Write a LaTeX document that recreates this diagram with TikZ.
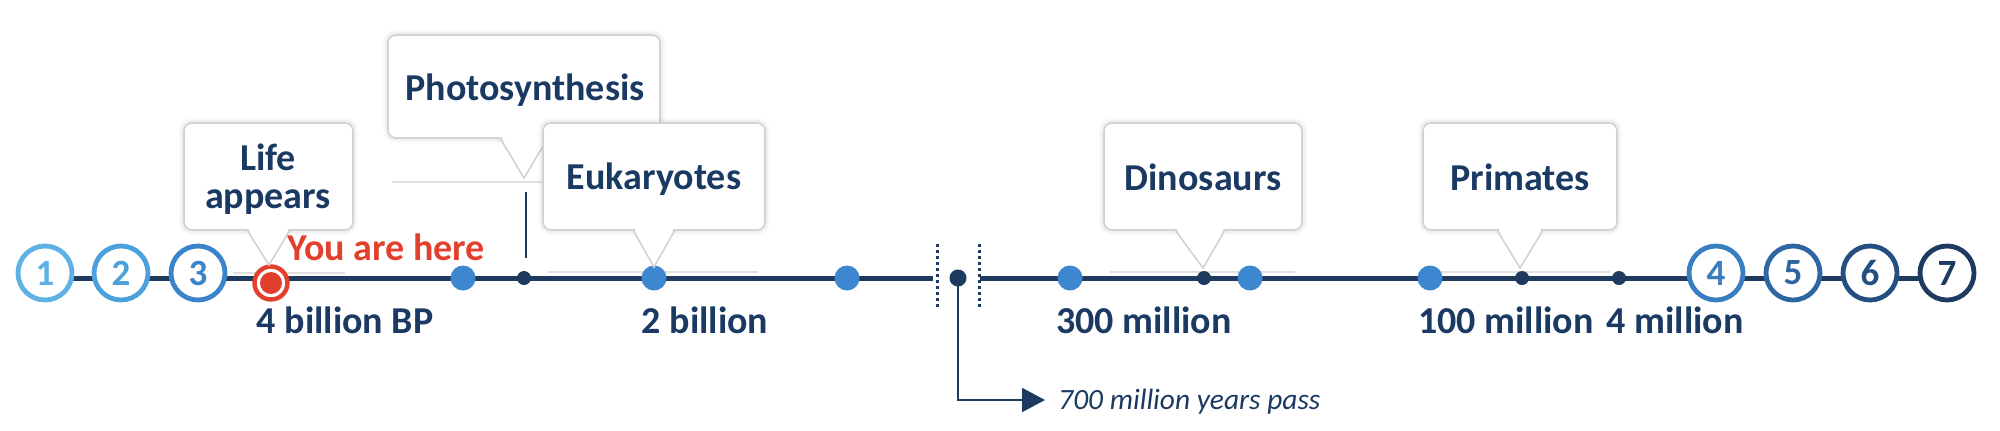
\documentclass[tikz,border=0pt]{standalone}
\usepackage{fontspec}
\setmainfont{Carlito}
\usetikzlibrary{arrows.meta}
\definecolor{navy}{HTML}{1E3A5F}
\definecolor{txt}{HTML}{1B3A63}
\definecolor{dotblue}{HTML}{3D87D0}
\definecolor{herered}{HTML}{E2402D}
\definecolor{boxgray}{HTML}{D2D2D2}
\definecolor{cA}{HTML}{5DB1E4}
\definecolor{cB}{HTML}{4CA0DC}
\definecolor{cC}{HTML}{3B84CA}
\definecolor{cD}{HTML}{3A7EC2}
\definecolor{cE}{HTML}{2E66A2}
\definecolor{cF}{HTML}{254F80}
\definecolor{cG}{HTML}{1D3A60}
\newcommand\mycallout[8]{%
  \draw[box] (#1,#2) rectangle (#3,#4);
  \fill[white] (#5+1,#4-2) -- (#6,#7) -- (#8-1,#4-2) -- cycle;
  \draw[tailline] (#5,#4) -- (#6,#7) -- (#8,#4);
}
\begin{document}
\begin{tikzpicture}[x=0.5pt,y=-0.5pt,
  lbl/.style={font=\bfseries\fontsize{19}{22}\selectfont, text=txt, inner sep=0, anchor=base},
  numc/.style={circle, draw, fill=white, line width=2.4pt, minimum size=27pt, inner sep=0, font=\bfseries\fontsize{18.5}{20}\selectfont},
  bdot/.style={circle, fill=dotblue, minimum size=12.5pt, inner sep=0},
  ddot/.style={circle, fill=navy, minimum size=7pt, inner sep=0},
  glow/.style={preaction={draw=black, opacity=0.025, line width=5pt},
               preaction={draw=black, opacity=0.035, line width=3pt}},
  box/.style={draw=boxgray, line width=0.8pt, fill=white, rounded corners=4pt, glow},
  tailline/.style={draw=boxgray, line width=0.8pt},
  faint/.style={draw=black!12, line width=0.7pt},
  tline/.style={draw=navy, line width=2.5pt},
]
\useasboundingbox (0,0) rectangle (2000,430);
\fill[white] (0,0) rectangle (2000,430);

% faint baselines under callouts
\coordinate (fa1) at (233,273); \coordinate (fa2) at (345,273);
\coordinate (fb1) at (392,182); \coordinate (fb2) at (600,182);
\coordinate (fc1) at (548,272); \coordinate (fc2) at (758,272);
\coordinate (fd1) at (1110,272); \coordinate (fd2) at (1295,272);
\coordinate (fe1) at (1440,272); \coordinate (fe2) at (1610,272);
\draw[faint] (fa1) -- (fa2);
\draw[faint] (fb1) -- (fb2);
\draw[faint] (fc1) -- (fc2);
\draw[faint] (fd1) -- (fd2);
\draw[faint] (fe1) -- (fe2);

% timeline
\coordinate (tA) at (45,278);
\coordinate (tB) at (933,278);
\coordinate (tC) at (980,278);
\coordinate (tD) at (1947,278);
\draw[tline] (tA) -- (tB);
\draw[tline] (tC) -- (tD);

% break marks
\coordinate (k1t) at (937,244); \coordinate (k1b) at (937,310);
\coordinate (k2t) at (979,244); \coordinate (k2b) at (979,310);
\draw[navy, line width=1.5pt, dash pattern=on 1.5pt off 1.5pt] (k1t) -- (k1b);
\draw[navy, line width=1.5pt, dash pattern=on 1.5pt off 1.5pt] (k2t) -- (k2b);
\node[circle, fill=navy, minimum size=8.5pt, inner sep=0] (bd) at (958,278) {};
\coordinate (arrend) at (1045,400);
\draw[navy, line width=1pt, -{Triangle[length=11.5pt,width=12pt]}] (bd.center) |- (arrend);
\node[font=\itshape\fontsize{14.7}{18}\selectfont, text=txt, anchor=base west, inner sep=0] (pass) at (1058,409) {700 million years pass};

% numbered circles
\node[numc, draw=cA, text=cA] (n1) at (45,273) {1};
\node[numc, draw=cB, text=cB] (n2) at (121,273) {2};
\node[numc, draw=cC, text=cC] (n3) at (198,273) {3};
\node[numc, draw=cD, text=cD] (n4) at (1716,273) {4};
\node[numc, draw=cE, text=cE] (n5) at (1793,273) {5};
\node[numc, draw=cF, text=cF] (n6) at (1870,273) {6};
\node[numc, draw=cG, text=cG] (n7) at (1947,273) {7};

% dots
\node[bdot] (b1) at (463,278) {};
\node[bdot] (b2) at (654,278) {};
\node[bdot] (b3) at (847,278) {};
\node[bdot] (b4) at (1070,278) {};
\node[bdot] (b5) at (1250,278) {};
\node[bdot] (b6) at (1430,278) {};
\node[ddot] (d1) at (524,278) {};
\node[ddot] (d2) at (1204,278) {};
\node[ddot] (d3) at (1522,278) {};
\node[ddot] (d4) at (1619,278) {};

% you are here marker
\node[circle, draw=herered, line width=2.2pt, fill=white, minimum size=16.5pt, inner sep=0] (here) at (271,283) {};
\node[circle, fill=herered, minimum size=11pt, inner sep=0] (herein) at (here.center) {};
\node[font=\bfseries\fontsize{19}{22}\selectfont, text=herered, anchor=base west, inner sep=0] (yah) at (287,260) {You are here};

% callouts
\mycallout{184}{123}{353}{230}{247}{269}{265}{290}
\mycallout{388}{35}{660}{138}{500}{524}{178}{548}
\mycallout{543}{123}{765}{230}{633}{654}{267}{675}
\mycallout{1104}{123}{1302}{230}{1175}{1203}{268}{1225}
\mycallout{1423}{123}{1617}{230}{1497}{1520}{268}{1543}

\node[lbl] (life1) at (268,170) {Life};
\node[lbl] (life2) at (268,208) {appears};
\node[lbl] (photo) at (525,100) {Photosynthesis};
\node[lbl] (euk) at (654,189) {Eukaryotes};
\node[lbl] (dino) at (1203,190) {Dinosaurs};
\node[lbl] (prim) at (1520,190) {Primates};

% photosynthesis connector
\coordinate (pc1) at (526,192);
\coordinate (pc2) at (526,258);
\draw[navy, line width=1pt] (pc1) -- (pc2);

% time labels
\node[lbl] (t1) at (345,333) {4 billion BP};
\node[lbl] (t2) at (705,333) {2 billion};
\node[lbl] (t3) at (1144,333) {300 million};
\node[lbl] (t4) at (1506,333) {100 million};
\node[lbl] (t5) at (1675,333) {4 million};
\end{tikzpicture}
\end{document}
